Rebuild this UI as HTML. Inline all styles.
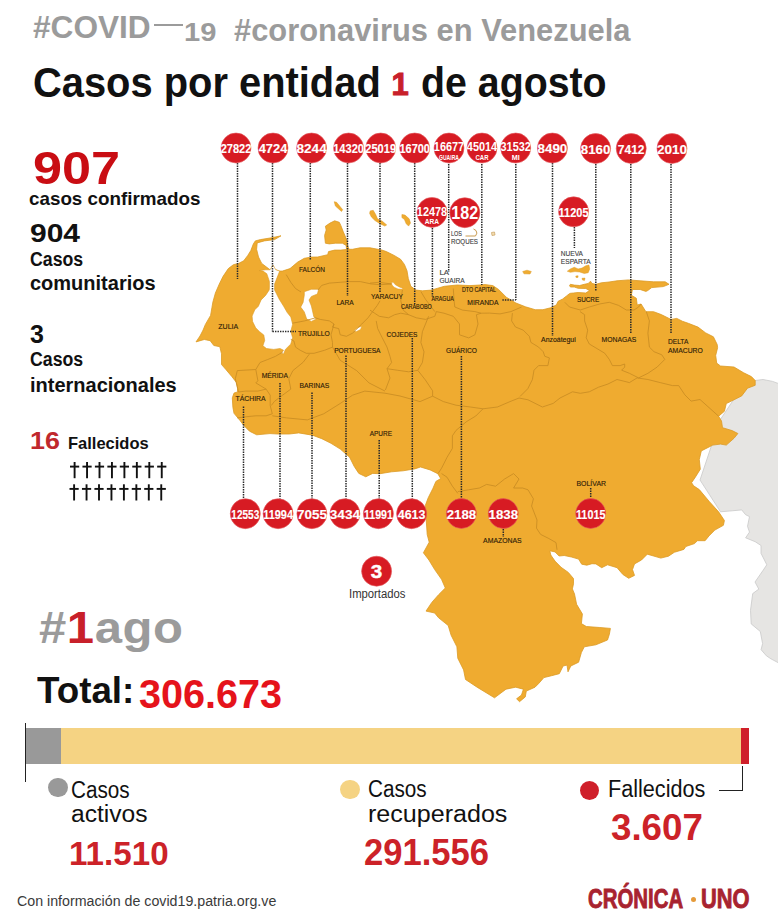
<!DOCTYPE html>
<html><head><meta charset="utf-8"><style>
html,body{margin:0;padding:0;background:#fff;width:778px;height:924px;overflow:hidden}
body{position:relative;font-family:"Liberation Sans", sans-serif}
div{position:absolute;white-space:nowrap}
.lb{color:#2b2416;font-weight:400;letter-spacing:-0.2px}
.pn{width:40px;text-align:center;color:#fff;font-weight:700;letter-spacing:-0.6px}
</style></head><body>
<svg width="778" height="924" viewBox="0 0 778 924" style="position:absolute;left:0;top:0"><path d="M755.2,380.5 L763.0,379.5 L772.6,381.4 L778.0,383.4 L790.0,384.0 L790.0,665.0 L778.0,662.6 L770.9,658.8 L766.4,655.8 L761.1,649.7 L762.6,643.6 L760.3,631.5 L751.2,623.9 L750.5,610.3 L752.7,593.6 L758.8,589.1 L755.0,582.0 L762.9,570.6 L766.8,564.8 L764.9,561.0 L761.0,553.3 L761.0,545.5 L755.2,541.7 L745.6,537.8 L749.5,532.1 L747.5,526.3 L749.5,516.6 L745.6,514.7 L741.7,509.9 L732.1,510.8 L720.5,511.8 L700.0,480.0 L720.0,420.0 L740.0,390.0 Z" fill="#e6e5e3" stroke="#c9c9c9" stroke-width="0.8"/><path d="M281.0,235.8 L274.6,239.6 L264.3,240.9 L257.2,242.9 L256.6,249.3 L258.5,257.0 L261.7,263.4 L266.8,267.3 L270.0,269.8 L275.8,269.8 L279.7,271.1 L282.3,271.1 L290.0,268.6 L297.7,262.1 L304.3,258.3 L311.4,257.1 L317.7,257.0 L327.7,254.7 L328.5,251.6 L334.7,250.1 L340.8,250.1 L346.5,249.5 L346.2,245.5 L342.4,243.2 L335.4,243.2 L329.3,243.9 L325.4,243.2 L324.6,235.4 L326.2,230.0 L325.4,226.2 L330.0,223.1 L334.7,220.8 L339.3,222.3 L340.8,225.4 L343.2,231.6 L345.5,237.0 L347.0,240.8 L347.8,246.2 L349.0,249.3 L352.4,249.3 L360.1,247.8 L370.1,247.8 L381.7,250.0 L386.4,251.6 L394.1,255.4 L400.6,259.3 L404.4,264.4 L407.0,270.8 L408.3,278.5 L410.8,286.3 L416.0,290.1 L422.4,290.8 L431.4,290.1 L437.8,288.2 L444.3,286.3 L457.1,285.0 L470.0,285.6 L480.0,285.0 L485.0,284.6 L492.8,285.6 L498.6,289.5 L506.3,297.2 L515.9,303.0 L525.5,306.8 L535.2,309.7 L542.9,309.7 L550.6,307.8 L556.4,304.9 L558.1,301.3 L562.7,299.0 L566.6,295.9 L569.6,293.6 L570.4,293.3 L573.5,293.0 L578.1,292.5 L585.8,293.0 L589.5,290.5 L585.8,288.5 L578.1,288.3 L574.3,287.0 L570.4,287.0 L569.5,285.5 L570.4,284.3 L574.3,285.1 L579.7,285.5 L584.3,284.3 L588.2,283.5 L590.5,281.2 L592.0,283.5 L595.9,284.3 L601.3,282.8 L609.0,282.0 L617.0,280.8 L628.6,279.9 L640.1,280.8 L653.6,281.8 L665.2,281.8 L669.0,284.3 L663.3,286.6 L651.7,287.6 L647.8,290.5 L645.9,291.4 L640.1,289.5 L632.4,289.5 L631.4,295.3 L636.3,298.2 L637.2,305.0 L641.1,304.0 L645.9,311.7 L653.6,311.7 L661.3,314.6 L671.0,319.4 L676.8,318.4 L682.5,321.3 L688.3,323.3 L698.0,327.1 L705.7,332.9 L713.4,336.8 L717.2,344.5 L717.6,347.7 L715.7,355.4 L716.7,363.1 L720.5,366.0 L734.0,367.0 L743.7,372.8 L751.4,376.6 L755.2,380.5 L755.2,385.3 L747.5,388.2 L741.7,395.9 L734.0,399.8 L726.3,403.6 L724.4,411.3 L718.6,416.2 L721.5,421.0 L722.5,427.7 L732.1,430.6 L737.9,433.5 L734.0,438.3 L726.3,445.1 L720.5,444.1 L712.8,445.1 L709.0,447.0 L701.3,450.9 L699.3,459.5 L700.3,469.2 L695.5,476.9 L691.6,482.7 L693.6,485.8 L699.3,489.6 L709.0,501.2 L718.6,511.8 L724.4,520.5 L723.4,525.3 L714.8,530.1 L709.0,535.9 L705.1,540.7 L697.4,540.7 L694.5,543.6 L685.8,546.5 L683.9,549.4 L674.3,552.3 L668.5,556.2 L660.8,558.1 L647.3,554.2 L641.5,560.0 L634.5,563.9 L632.5,569.6 L634.5,575.4 L628.7,578.3 L622.9,574.5 L617.1,567.7 L607.5,564.8 L601.7,567.7 L595.9,563.9 L592.0,563.7 L586.8,565.2 L581.7,564.2 L578.6,559.1 L571.4,557.0 L564.2,555.5 L559.1,556.0 L555.0,551.9 L549.8,550.8 L550.8,555.0 L555.0,561.1 L561.1,567.3 L568.3,572.4 L573.5,578.6 L573.5,583.8 L572.4,588.9 L574.5,594.0 L576.6,604.3 L582.4,614.0 L581.4,623.6 L586.3,626.5 L599.8,627.5 L610.4,628.4 L609.4,634.2 L607.5,640.0 L595.9,644.8 L584.3,646.8 L581.4,652.5 L578.6,662.2 L570.8,666.0 L568.0,671.8 L567.0,665.1 L563.1,666.0 L559.3,673.7 L551.6,675.7 L543.9,677.6 L538.8,683.4 L535.0,687.2 L526.3,691.1 L525.3,696.9 L519.5,701.7 L516.6,698.8 L521.5,695.0 L523.4,689.2 L515.7,687.2 L506.0,689.2 L494.5,697.8 L477.1,687.2 L465.5,679.5 L463.6,669.9 L457.8,658.3 L456.9,646.8 L451.1,635.2 L448.2,625.5 L438.6,617.8 L434.7,613.0 L426.0,611.1 L431.8,602.4 L438.6,594.7 L445.3,588.0 L441.5,579.3 L434.7,569.6 L428.9,560.0 L423.4,552.8 L429.2,542.2 L427.2,534.5 L426.3,521.0 L425.3,505.5 L428.2,497.8 L433.0,488.2 L435.9,481.4 L440.7,478.6 L437.8,473.7 L430.1,469.9 L420.5,467.0 L414.7,468.9 L403.1,470.8 L391.6,471.8 L380.0,473.7 L372.7,473.4 L365.8,476.8 L358.8,473.4 L354.2,466.4 L349.6,457.2 L340.3,449.1 L331.0,443.3 L321.8,438.7 L312.5,435.2 L298.7,432.9 L289.4,434.0 L277.8,434.0 L270.0,433.6 L256.7,434.8 L249.5,431.2 L243.6,425.2 L240.0,420.5 L234.0,413.3 L232.9,407.4 L232.3,397.9 L234.0,393.1 L237.6,391.9 L237.6,388.3 L236.4,382.4 L231.7,376.4 L225.7,369.3 L221.5,364.5 L221.5,353.8 L219.8,346.7 L213.8,345.5 L210.2,340.7 L204.3,339.5 L196.0,341.9 L200.0,336.0 L203.1,330.0 L205.4,324.4 L210.6,315.4 L211.9,307.7 L212.9,302.0 L215.4,293.0 L219.3,284.0 L223.1,276.3 L228.3,268.6 L233.4,264.7 L238.6,263.4 L243.7,260.8 L247.6,255.7 L250.8,250.6 L253.3,244.1 L255.3,240.9 L260.4,239.6 L272.0,237.7 Z" fill="#efab30" stroke="#dc9a25" stroke-width="0.8" stroke-linejoin="round"/><path d="M334.2,201.7 L336.6,202.3 L342.7,209.7 L341.5,211.5 L335.4,206.0 Z" fill="#efab30" stroke="#dc9a25" stroke-width="0.5"/><path d="M370.2,210.9 L373.2,210.3 L375.7,214.5 L377.5,218.8 L382.4,221.3 L386.7,224.9 L384.8,226.1 L380.0,223.7 L375.0,220.6 L371.4,217.0 L369.6,213.3 Z" fill="#efab30" stroke="#dc9a25" stroke-width="0.5"/><path d="M401.9,214.5 L405.0,215.1 L409.2,218.8 L410.5,223.1 L408.6,226.1 L406.2,223.7 L404.4,219.4 L401.9,217.6 Z" fill="#efab30" stroke="#dc9a25" stroke-width="0.5"/><path d="M567.3,271.2 L570.4,268.9 L574.3,267.3 L578.1,268.9 L582.0,268.1 L585.8,265.8 L588.9,265.0 L589.7,268.9 L588.2,272.7 L584.3,273.5 L579.7,272.0 L575.0,271.6 L570.4,272.3 Z" fill="#efab30" stroke="#dc9a25" stroke-width="0.5"/><path d="M575.8,276.0 L578.1,275.8 L578.0,277.4 L576.0,277.4 Z" fill="#efab30" stroke="#dc9a25" stroke-width="0.5"/><path d="M582.0,278.3 L585.0,278.1 L584.5,280.4 L582.5,280.0 Z" fill="#efab30" stroke="#dc9a25" stroke-width="0.5"/><path d="M522.7,271.5 L527.0,270.2 L531.3,271.5 L530.0,274.0 L524.0,273.8 Z" fill="#efab30" stroke="#dc9a25" stroke-width="0.5"/><path d="M270.0,269.8 L265.6,269.8 L259.1,270.5 L263.0,271.1 L266.8,273.7 L269.4,281.4 L269.4,287.8 L269.2,290.0 L265.6,295.4 L261.1,299.9 L258.4,306.2 L254.8,309.8 L252.1,316.1 L252.6,321.5 L255.7,327.8 L259.3,331.4 L263.8,335.0 L264.7,340.4 L262.9,345.8 L266.5,348.5 L273.7,349.4 L280.0,348.5 L283.6,350.3 L280.9,353.0 L283.6,353.9 L285.4,349.4 L290.8,344.0 L292.6,337.7 L290.8,331.4 L292.6,324.2 L290.8,317.0 L287.2,312.5 L283.6,306.2 L279.1,299.0 L276.4,293.6 L274.6,290.0 L274.6,284.0 L277.1,277.6 L279.7,271.1 L275.8,269.8 L273.0,265.0 Z" fill="#fff" stroke="#dc9a25" stroke-width="0.6"/><path d="M304.3,291.7 L311.4,289.3 L318.6,289.3 L317.4,294.0 L311.4,296.4 L309.0,300.0 L311.4,306.0 L313.8,316.7 L316.2,319.0 L311.4,321.4 L306.7,319.0 L304.3,311.9 L300.7,307.1 L303.1,302.4 L304.3,295.2 Z" fill="#fff" stroke="#dc9a25" stroke-width="0.6"/><path d="M391.5,282.0 L393.5,282.6 L395.4,284.8 L399.3,286.9 L402.8,288.3 L402.0,289.3 L398.0,289.0 L394.1,287.2 L392.0,285.0 Z" fill="#fff" stroke="#dc9a25" stroke-width="0.5"/><path d="M354.0,330.5 L358.0,327.5 L361.8,326.3 L360.5,329.5 L356.0,331.7 Z" fill="#fff" stroke="#dc9a25" stroke-width="0.5"/><polyline points="286.2,274.6 290.8,282.3 295.5,288.5 301.0,292.0" fill="none" stroke="#c78a22" stroke-width="0.8" stroke-linejoin="round"/><polyline points="318.0,290.0 321.7,285.4 329.4,283.1 340.2,282.3 349.5,281.6 360.3,281.6 371.0,283.9 380.0,284.7 391.0,284.0" fill="none" stroke="#c78a22" stroke-width="0.8" stroke-linejoin="round"/><polyline points="292.4,323.2 304.7,320.9 315.5,317.8" fill="none" stroke="#c78a22" stroke-width="0.8" stroke-linejoin="round"/><polyline points="315.5,317.8 320.2,319.4 329.4,320.9 334.0,324.0 332.5,327.1 338.7,328.6 340.2,334.8 346.4,336.3 352.5,333.2 361.8,324.0 368.0,317.8 372.6,311.6 377.2,305.5 380.0,300.8" fill="none" stroke="#c78a22" stroke-width="0.8" stroke-linejoin="round"/><polyline points="334.0,324.0 331.0,334.8 332.5,342.5 332.5,347.1 324.8,350.2 314.0,353.3 306.3,353.3 300.1,350.2 295.5,347.1 293.9,341.0 290.8,339.4" fill="none" stroke="#c78a22" stroke-width="0.8" stroke-linejoin="round"/><polyline points="283.1,351.8 275.4,356.4 267.7,359.5 260.0,362.5 255.8,369.5 237.3,370.6" fill="none" stroke="#c78a22" stroke-width="0.8" stroke-linejoin="round"/><polyline points="309.4,354.1 303.1,362.3 292.9,370.6 288.8,378.8 290.8,389.1 282.6,395.2 274.4,401.4 271.3,405.5" fill="none" stroke="#c78a22" stroke-width="0.8" stroke-linejoin="round"/><polyline points="332.5,347.1 340.2,360.3 356.6,370.6 369.0,382.9 385.0,391.1" fill="none" stroke="#c78a22" stroke-width="0.8" stroke-linejoin="round"/><polyline points="237.3,370.6 235.3,378.8 237.3,387.0 238.5,392.0 245.6,391.1 257.9,391.1 266.1,389.1 270.2,395.2 270.2,405.5 272.3,413.8 266.1,415.8 255.8,415.8 245.6,416.8 237.3,417.9" fill="none" stroke="#c78a22" stroke-width="0.8" stroke-linejoin="round"/><polyline points="255.8,369.5 257.9,380.8 255.8,382.9 266.1,389.1" fill="none" stroke="#c78a22" stroke-width="0.8" stroke-linejoin="round"/><polyline points="272.3,415.8 286.7,417.9 307.3,419.9 323.7,413.8 340.2,403.5 352.5,395.2 364.8,391.1 385.0,393.2 400.0,396.0 420.0,401.6 432.6,396.2 443.4,401.6 456.0,405.2 470.4,407.0 483.0,408.8 497.4,407.0 510.0,401.6 519.0,398.0 528.0,399.8 542.4,407.0 553.2,403.4 560.0,398.0 572.5,391.8 580.3,393.3 589.3,391.8 598.5,387.2 607.8,384.1 617.0,379.5 623.2,381.0 629.4,382.6 637.1,377.9 647.9,379.5 660.2,382.6 672.5,385.6 678.7,385.6 684.9,394.9 691.1,401.1 700.0,399.5 718.6,416.2" fill="none" stroke="#c78a22" stroke-width="0.8" stroke-linejoin="round"/><polyline points="370.0,283.1 379.3,282.3 391.6,284.0" fill="none" stroke="#c78a22" stroke-width="0.8" stroke-linejoin="round"/><polyline points="402.4,290.0 400.8,300.8 403.2,310.1 408.6,314.7 416.3,317.8 425.5,319.4 434.8,316.3 436.3,311.6 444.0,313.2 453.3,316.3 459.5,324.0 459.5,334.8 468.7,337.9 474.9,334.8 478.0,324.0 476.4,314.7 481.1,313.2 489.3,313.1 500.0,313.9 510.9,311.6 521.6,307.0" fill="none" stroke="#c78a22" stroke-width="0.8" stroke-linejoin="round"/><polyline points="370.0,310.1 374.6,313.2 379.3,316.3 388.5,317.8 394.7,314.7 400.8,313.2 408.6,314.7" fill="none" stroke="#c78a22" stroke-width="0.8" stroke-linejoin="round"/><polyline points="420.9,291.6 425.5,299.3 430.2,305.5 434.8,311.6" fill="none" stroke="#c78a22" stroke-width="0.8" stroke-linejoin="round"/><polyline points="453.3,288.5 454.1,300.8 454.8,307.0 462.5,310.1 474.9,311.6 481.1,313.2" fill="none" stroke="#c78a22" stroke-width="0.8" stroke-linejoin="round"/><polyline points="376.2,320.9 377.7,328.6 382.3,337.9 387.0,347.1 390.0,356.4 391.6,362.5 387.0,368.7 390.0,378.0 385.4,390.0" fill="none" stroke="#c78a22" stroke-width="0.8" stroke-linejoin="round"/><polyline points="428.6,316.3 425.5,324.0 422.4,331.7 420.9,342.5 424.0,351.8 422.4,362.5 417.8,370.3 408.6,371.8 397.8,370.3 387.0,368.7" fill="none" stroke="#c78a22" stroke-width="0.8" stroke-linejoin="round"/><polyline points="417.8,370.3 425.4,380.0 432.6,390.8 432.6,396.2" fill="none" stroke="#c78a22" stroke-width="0.8" stroke-linejoin="round"/><polyline points="512.4,313.1 511.6,320.9 515.5,327.0 523.2,330.1 529.4,336.3 530.9,342.4 538.6,347.1 543.2,351.7 544.8,356.3 549.4,357.9 547.9,365.6 538.6,365.6 534.0,370.2 532.4,379.5 527.8,388.7 520.1,396.4" fill="none" stroke="#c78a22" stroke-width="0.8" stroke-linejoin="round"/><polyline points="564.8,302.3 569.5,307.0 580.3,310.0 589.3,307.0 600.0,303.9 609.3,302.3 618.6,305.4 626.3,310.0 634.0,310.0 638.6,307.0 641.0,304.0" fill="none" stroke="#c78a22" stroke-width="0.8" stroke-linejoin="round"/><polyline points="580.0,311.6 584.6,314.7 584.6,320.9 587.7,330.1 586.2,337.8 589.3,344.0 597.0,348.6 604.7,353.2 609.3,359.4 612.4,365.6 620.1,365.6 624.7,364.0 624.7,367.1 621.6,370.2 629.4,373.3 638.6,377.9" fill="none" stroke="#c78a22" stroke-width="0.8" stroke-linejoin="round"/><polyline points="646.3,311.6 649.4,320.9 647.9,333.2 649.4,347.1 654.0,351.7 661.8,354.8 664.8,359.4 657.1,367.1 647.9,373.3 638.6,377.9" fill="none" stroke="#c78a22" stroke-width="0.8" stroke-linejoin="round"/><polyline points="483.0,408.8 475.8,416.0 466.8,421.4 456.0,430.4 452.4,435.8 452.4,448.4 447.0,457.4 441.6,468.2 438.0,473.6" fill="none" stroke="#c78a22" stroke-width="0.8" stroke-linejoin="round"/><polyline points="441.6,473.6 447.0,477.2 452.4,486.2 457.8,493.4" fill="none" stroke="#c78a22" stroke-width="0.8" stroke-linejoin="round"/><polyline points="457.8,491.6 468.6,489.8 479.4,488.0 486.6,484.4 495.6,486.2 504.6,479.0 513.6,473.6 519.0,479.0 513.6,488.0 522.6,488.0 528.0,489.8 533.4,498.8 531.6,506.0 537.0,520.0 536.5,528.2 540.6,534.4 548.8,538.5 556.0,542.6 557.0,549.8" fill="none" stroke="#c78a22" stroke-width="0.8" stroke-linejoin="round"/><path d="M465.5,236 L475.5,236 Q478,233 476,230.5 L473.5,229" fill="none" stroke="#c89a50" stroke-width="1"/><path d="M491.5,232.5 L494.5,232 L495,235 L492,235.5 Z" fill="#f3dcb0" stroke="#c9a060" stroke-width="0.7"/><line x1="237.5" y1="163" x2="237.5" y2="279" stroke="#2a2a2a" stroke-width="1.5" stroke-dasharray="1.4 1.1"/><line x1="272.5" y1="163" x2="272.5" y2="331.5" stroke="#2a2a2a" stroke-width="1.5" stroke-dasharray="1.4 1.1"/><line x1="310.3" y1="163" x2="310.3" y2="260" stroke="#2a2a2a" stroke-width="1.5" stroke-dasharray="1.4 1.1"/><line x1="347.5" y1="163" x2="347.5" y2="296" stroke="#2a2a2a" stroke-width="1.5" stroke-dasharray="1.4 1.1"/><line x1="380" y1="163" x2="380" y2="292.4" stroke="#2a2a2a" stroke-width="1.5" stroke-dasharray="1.4 1.1"/><line x1="414.7" y1="163" x2="414.7" y2="304" stroke="#2a2a2a" stroke-width="1.5" stroke-dasharray="1.4 1.1"/><line x1="448.7" y1="164" x2="448.7" y2="272" stroke="#2a2a2a" stroke-width="1.5" stroke-dasharray="1.4 1.1"/><line x1="481.8" y1="164" x2="481.8" y2="285" stroke="#2a2a2a" stroke-width="1.5" stroke-dasharray="1.4 1.1"/><line x1="515.8" y1="164" x2="515.8" y2="300" stroke="#2a2a2a" stroke-width="1.5" stroke-dasharray="1.4 1.1"/><line x1="552.5" y1="163" x2="552.5" y2="336" stroke="#2a2a2a" stroke-width="1.5" stroke-dasharray="1.4 1.1"/><line x1="595.8" y1="164" x2="595.8" y2="291.3" stroke="#2a2a2a" stroke-width="1.5" stroke-dasharray="1.4 1.1"/><line x1="630.8" y1="164" x2="630.8" y2="334" stroke="#2a2a2a" stroke-width="1.5" stroke-dasharray="1.4 1.1"/><line x1="671" y1="164" x2="671" y2="334" stroke="#2a2a2a" stroke-width="1.5" stroke-dasharray="1.4 1.1"/><line x1="432.4" y1="228" x2="432.4" y2="296.5" stroke="#2a2a2a" stroke-width="1.5" stroke-dasharray="1.4 1.1"/><line x1="574.4" y1="227" x2="574.4" y2="248" stroke="#2a2a2a" stroke-width="1.5" stroke-dasharray="1.4 1.1"/><line x1="243.5" y1="406.5" x2="243.5" y2="498.5" stroke="#2a2a2a" stroke-width="1.5" stroke-dasharray="1.4 1.1"/><line x1="280" y1="383" x2="280" y2="498.5" stroke="#2a2a2a" stroke-width="1.5" stroke-dasharray="1.4 1.1"/><line x1="312" y1="392.5" x2="312" y2="498.5" stroke="#2a2a2a" stroke-width="1.5" stroke-dasharray="1.4 1.1"/><line x1="346" y1="355.5" x2="346" y2="498.5" stroke="#2a2a2a" stroke-width="1.5" stroke-dasharray="1.4 1.1"/><line x1="379.2" y1="440" x2="379.2" y2="498.5" stroke="#2a2a2a" stroke-width="1.5" stroke-dasharray="1.4 1.1"/><line x1="412.3" y1="338" x2="412.3" y2="498.5" stroke="#2a2a2a" stroke-width="1.5" stroke-dasharray="1.4 1.1"/><line x1="461.4" y1="356" x2="461.4" y2="498" stroke="#2a2a2a" stroke-width="1.5" stroke-dasharray="1.4 1.1"/><line x1="503.3" y1="529" x2="503.3" y2="537" stroke="#2a2a2a" stroke-width="1.5" stroke-dasharray="1.4 1.1"/><line x1="590.7" y1="488" x2="590.7" y2="498" stroke="#2a2a2a" stroke-width="1.5" stroke-dasharray="1.4 1.1"/><line x1="272.5" y1="331.5" x2="296" y2="331.5" stroke="#2a2a2a" stroke-width="1.5" stroke-dasharray="1.4 1.1"/><line x1="502.4" y1="300.1" x2="515.8" y2="300.1" stroke="#2a2a2a" stroke-width="1.5" stroke-dasharray="1.4 1.1"/><circle cx="236" cy="148" r="15" fill="#d71b23" stroke="#e45a5e" stroke-width="0.6"/><circle cx="273" cy="148" r="15" fill="#d71b23" stroke="#e45a5e" stroke-width="0.6"/><circle cx="311.6" cy="148" r="15" fill="#d71b23" stroke="#e45a5e" stroke-width="0.6"/><circle cx="348.6" cy="148" r="15" fill="#d71b23" stroke="#e45a5e" stroke-width="0.6"/><circle cx="380.7" cy="148" r="15" fill="#d71b23" stroke="#e45a5e" stroke-width="0.6"/><circle cx="414.7" cy="148" r="15" fill="#d71b23" stroke="#e45a5e" stroke-width="0.6"/><circle cx="449" cy="148" r="15" fill="#d71b23" stroke="#e45a5e" stroke-width="0.6"/><circle cx="482" cy="148" r="15" fill="#d71b23" stroke="#e45a5e" stroke-width="0.6"/><circle cx="515.7" cy="148" r="15" fill="#d71b23" stroke="#e45a5e" stroke-width="0.6"/><circle cx="552.4" cy="148" r="15" fill="#d71b23" stroke="#e45a5e" stroke-width="0.6"/><circle cx="595.6" cy="148.5" r="15" fill="#d71b23" stroke="#e45a5e" stroke-width="0.6"/><circle cx="631.2" cy="148.5" r="15" fill="#d71b23" stroke="#e45a5e" stroke-width="0.6"/><circle cx="672" cy="148.5" r="15" fill="#d71b23" stroke="#e45a5e" stroke-width="0.6"/><circle cx="432" cy="212.4" r="15" fill="#d71b23" stroke="#e45a5e" stroke-width="0.6"/><circle cx="464.8" cy="212.7" r="15" fill="#d71b23" stroke="#e45a5e" stroke-width="0.6"/><circle cx="573.6" cy="211.8" r="15" fill="#d71b23" stroke="#e45a5e" stroke-width="0.6"/><circle cx="245.3" cy="513.7" r="15" fill="#d71b23" stroke="#e45a5e" stroke-width="0.6"/><circle cx="278.1" cy="513.7" r="15" fill="#d71b23" stroke="#e45a5e" stroke-width="0.6"/><circle cx="311.9" cy="513.7" r="15" fill="#d71b23" stroke="#e45a5e" stroke-width="0.6"/><circle cx="344.9" cy="513.7" r="15" fill="#d71b23" stroke="#e45a5e" stroke-width="0.6"/><circle cx="378.4" cy="513.7" r="15" fill="#d71b23" stroke="#e45a5e" stroke-width="0.6"/><circle cx="411.6" cy="513.7" r="15" fill="#d71b23" stroke="#e45a5e" stroke-width="0.6"/><circle cx="461.4" cy="513.5" r="15" fill="#d71b23" stroke="#e45a5e" stroke-width="0.6"/><circle cx="503.3" cy="513.5" r="15" fill="#d71b23" stroke="#e45a5e" stroke-width="0.6"/><circle cx="590.7" cy="513.5" r="15" fill="#d71b23" stroke="#e45a5e" stroke-width="0.6"/><circle cx="376.6" cy="571.2" r="15" fill="#d71b23" stroke="#e45a5e" stroke-width="0.6"/><g font-family="Liberation Sans, sans-serif"><text x="218.3" y="328.7" font-size="8" textLength="19.9" lengthAdjust="spacingAndGlyphs" fill="#2e2008" stroke="#2e2008" stroke-width="0.15" font-weight="400">ZULIA</text><text x="299" y="272.2" font-size="8" textLength="26" lengthAdjust="spacingAndGlyphs" fill="#2e2008" stroke="#2e2008" stroke-width="0.15" font-weight="400">FALCÓN</text><text x="298" y="335.7" font-size="8" textLength="31.8" lengthAdjust="spacingAndGlyphs" fill="#2e2008" stroke="#2e2008" stroke-width="0.15" font-weight="400">TRUJILLO</text><text x="336.4" y="304.8" font-size="8" textLength="17.3" lengthAdjust="spacingAndGlyphs" fill="#2e2008" stroke="#2e2008" stroke-width="0.15" font-weight="400">LARA</text><text x="371.1" y="299.0" font-size="8" textLength="31.8" lengthAdjust="spacingAndGlyphs" fill="#2e2008" stroke="#2e2008" stroke-width="0.15" font-weight="400">YARACUY</text><text x="401" y="308.7" font-size="6.5" textLength="30.8" lengthAdjust="spacingAndGlyphs" fill="#2e2008" stroke="#2e2008" stroke-width="0.15" font-weight="400">CARABOBO</text><text x="386.5" y="336.7" font-size="8" textLength="30.9" lengthAdjust="spacingAndGlyphs" fill="#2e2008" stroke="#2e2008" stroke-width="0.15" font-weight="400">COJEDES</text><text x="431.6" y="300.5" font-size="6.5" textLength="22.1" lengthAdjust="spacingAndGlyphs" fill="#2e2008" stroke="#2e2008" stroke-width="0.15" font-weight="400">ARAGUA</text><text x="439.4" y="274.9" font-size="8" textLength="9.6" lengthAdjust="spacingAndGlyphs" fill="#444444" stroke="#444444" stroke-width="0.15" font-weight="400">LA</text><text x="439.4" y="283.2" font-size="8" textLength="25.3" lengthAdjust="spacingAndGlyphs" fill="#444444" stroke="#444444" stroke-width="0.15" font-weight="400">GUAIRA</text><text x="451" y="235.7" font-size="8" textLength="11" lengthAdjust="spacingAndGlyphs" fill="#444444" stroke="#444444" stroke-width="0.15" font-weight="400">LOS</text><text x="451" y="243.7" font-size="8" textLength="27" lengthAdjust="spacingAndGlyphs" fill="#444444" stroke="#444444" stroke-width="0.15" font-weight="400">ROQUES</text><text x="462" y="291.5" font-size="6.5" textLength="34" lengthAdjust="spacingAndGlyphs" fill="#2e2008" stroke="#2e2008" stroke-width="0.15" font-weight="400">DTO CAPITAL</text><text x="467.3" y="304.7" font-size="8" textLength="31.2" lengthAdjust="spacingAndGlyphs" fill="#2e2008" stroke="#2e2008" stroke-width="0.15" font-weight="400">MIRANDA</text><text x="560.8" y="256.1" font-size="8" textLength="22.2" lengthAdjust="spacingAndGlyphs" fill="#444444" stroke="#444444" stroke-width="0.15" font-weight="400">NUEVA</text><text x="560.8" y="264.2" font-size="8" textLength="29.8" lengthAdjust="spacingAndGlyphs" fill="#444444" stroke="#444444" stroke-width="0.15" font-weight="400">ESPARTA</text><text x="577" y="301.5" font-size="8" textLength="22.1" lengthAdjust="spacingAndGlyphs" fill="#2e2008" stroke="#2e2008" stroke-width="0.15" font-weight="400">SUCRE</text><text x="541" y="342.4" font-size="8" textLength="34.7" lengthAdjust="spacingAndGlyphs" fill="#2e2008" stroke="#2e2008" stroke-width="0.15" font-weight="400">Anzoátegui</text><text x="601.6" y="341.5" font-size="8" textLength="34.7" lengthAdjust="spacingAndGlyphs" fill="#2e2008" stroke="#2e2008" stroke-width="0.15" font-weight="400">MONAGAS</text><text x="668" y="344.4" font-size="8" textLength="20.3" lengthAdjust="spacingAndGlyphs" fill="#2e2008" stroke="#2e2008" stroke-width="0.15" font-weight="400">DELTA</text><text x="668" y="353.1" font-size="8" textLength="34.8" lengthAdjust="spacingAndGlyphs" fill="#2e2008" stroke="#2e2008" stroke-width="0.15" font-weight="400">AMACURO</text><text x="334.2" y="353.2" font-size="8" textLength="46.3" lengthAdjust="spacingAndGlyphs" fill="#2e2008" stroke="#2e2008" stroke-width="0.15" font-weight="400">PORTUGUESA</text><text x="261.7" y="378.3" font-size="8" textLength="26.3" lengthAdjust="spacingAndGlyphs" fill="#2e2008" stroke="#2e2008" stroke-width="0.15" font-weight="400">MÉRIDA</text><text x="299.5" y="387.9" font-size="8" textLength="29.7" lengthAdjust="spacingAndGlyphs" fill="#2e2008" stroke="#2e2008" stroke-width="0.15" font-weight="400">BARINAS</text><text x="235.5" y="401.4" font-size="8" textLength="30.1" lengthAdjust="spacingAndGlyphs" fill="#2e2008" stroke="#2e2008" stroke-width="0.15" font-weight="400">TÁCHIRA</text><text x="369.7" y="436.1" font-size="8" textLength="22.3" lengthAdjust="spacingAndGlyphs" fill="#2e2008" stroke="#2e2008" stroke-width="0.15" font-weight="400">APURE</text><text x="446" y="353.2" font-size="8" textLength="30.9" lengthAdjust="spacingAndGlyphs" fill="#2e2008" stroke="#2e2008" stroke-width="0.15" font-weight="400">GUÁRICO</text><text x="576.5" y="486.3" font-size="8" textLength="29.5" lengthAdjust="spacingAndGlyphs" fill="#2e2008" stroke="#2e2008" stroke-width="0.15" font-weight="400">BOLÍVAR</text><text x="483.1" y="543.1" font-size="8" textLength="38.6" lengthAdjust="spacingAndGlyphs" fill="#2e2008" stroke="#2e2008" stroke-width="0.15" font-weight="400">AMAZONAS</text><text x="220.65" y="153.40" font-size="13" textLength="30.7" lengthAdjust="spacingAndGlyphs" fill="#fff" stroke="#fff" stroke-width="0.15" font-weight="700">27822</text><text x="258.70" y="153.40" font-size="13" textLength="28.6" lengthAdjust="spacingAndGlyphs" fill="#fff" stroke="#fff" stroke-width="0.15" font-weight="700">4724</text><text x="296.50" y="153.40" font-size="13" textLength="30.2" lengthAdjust="spacingAndGlyphs" fill="#fff" stroke="#fff" stroke-width="0.15" font-weight="700">8244</text><text x="333.20" y="153.40" font-size="13" textLength="30.8" lengthAdjust="spacingAndGlyphs" fill="#fff" stroke="#fff" stroke-width="0.15" font-weight="700">14320</text><text x="365.30" y="153.40" font-size="13" textLength="30.8" lengthAdjust="spacingAndGlyphs" fill="#fff" stroke="#fff" stroke-width="0.15" font-weight="700">25019</text><text x="399.45" y="153.40" font-size="13" textLength="30.5" lengthAdjust="spacingAndGlyphs" fill="#fff" stroke="#fff" stroke-width="0.15" font-weight="700">16700</text><text x="433.8" y="151.3" font-size="12" textLength="30.4" lengthAdjust="spacingAndGlyphs" fill="#fff" font-weight="700">16677</text><text x="439.0" y="160" font-size="6.4" textLength="20" lengthAdjust="spacingAndGlyphs" fill="#fff" font-weight="700">GUAIRA</text><text x="466.8" y="151.3" font-size="12" textLength="30.4" lengthAdjust="spacingAndGlyphs" fill="#fff" font-weight="700">45014</text><text x="475.5" y="160" font-size="6.4" textLength="13" lengthAdjust="spacingAndGlyphs" fill="#fff" font-weight="700">CAR</text><text x="500.50000000000006" y="151.3" font-size="12" textLength="30.4" lengthAdjust="spacingAndGlyphs" fill="#fff" font-weight="700">31532</text><text x="511.70000000000005" y="160" font-size="6.4" textLength="8" lengthAdjust="spacingAndGlyphs" fill="#fff" font-weight="700">MI</text><text x="537.55" y="153.40" font-size="13" textLength="29.7" lengthAdjust="spacingAndGlyphs" fill="#fff" stroke="#fff" stroke-width="0.15" font-weight="700">8490</text><text x="580.80" y="153.90" font-size="13" textLength="29.6" lengthAdjust="spacingAndGlyphs" fill="#fff" stroke="#fff" stroke-width="0.15" font-weight="700">8160</text><text x="617.85" y="153.90" font-size="13" textLength="26.7" lengthAdjust="spacingAndGlyphs" fill="#fff" stroke="#fff" stroke-width="0.15" font-weight="700">7412</text><text x="656.95" y="153.90" font-size="13" textLength="30.1" lengthAdjust="spacingAndGlyphs" fill="#fff" stroke="#fff" stroke-width="0.15" font-weight="700">2010</text><text x="416.8" y="215.70000000000002" font-size="12" textLength="30.4" lengthAdjust="spacingAndGlyphs" fill="#fff" font-weight="700">12478</text><text x="424.85" y="224.4" font-size="6.4" textLength="14.3" lengthAdjust="spacingAndGlyphs" fill="#fff" font-weight="700">ARA</text><text x="451.3" y="218.89999999999998" font-size="17.5" textLength="27" lengthAdjust="spacingAndGlyphs" fill="#fff" font-weight="700">182</text><text x="558.60" y="217.20" font-size="13" textLength="30" lengthAdjust="spacingAndGlyphs" fill="#fff" stroke="#fff" stroke-width="0.15" font-weight="700">11205</text><text x="231.30" y="519.10" font-size="13" textLength="28" lengthAdjust="spacingAndGlyphs" fill="#fff" stroke="#fff" stroke-width="0.15" font-weight="700">12553</text><text x="263.25" y="519.10" font-size="13" textLength="29.7" lengthAdjust="spacingAndGlyphs" fill="#fff" stroke="#fff" stroke-width="0.15" font-weight="700">11994</text><text x="296.90" y="519.10" font-size="13" textLength="30" lengthAdjust="spacingAndGlyphs" fill="#fff" stroke="#fff" stroke-width="0.15" font-weight="700">7055</text><text x="329.75" y="519.10" font-size="13" textLength="30.3" lengthAdjust="spacingAndGlyphs" fill="#fff" stroke="#fff" stroke-width="0.15" font-weight="700">3434</text><text x="364.00" y="519.10" font-size="13" textLength="28.8" lengthAdjust="spacingAndGlyphs" fill="#fff" stroke="#fff" stroke-width="0.15" font-weight="700">11991</text><text x="397.75" y="519.10" font-size="13" textLength="27.7" lengthAdjust="spacingAndGlyphs" fill="#fff" stroke="#fff" stroke-width="0.15" font-weight="700">4613</text><text x="446.65" y="518.90" font-size="13" textLength="29.5" lengthAdjust="spacingAndGlyphs" fill="#fff" stroke="#fff" stroke-width="0.15" font-weight="700">2188</text><text x="488.55" y="518.90" font-size="13" textLength="29.5" lengthAdjust="spacingAndGlyphs" fill="#fff" stroke="#fff" stroke-width="0.15" font-weight="700">1838</text><text x="575.95" y="518.90" font-size="13" textLength="29.5" lengthAdjust="spacingAndGlyphs" fill="#fff" stroke="#fff" stroke-width="0.15" font-weight="700">11015</text><text x="370.8" y="578.3" font-size="19" textLength="11.5" lengthAdjust="spacingAndGlyphs" fill="#fff" stroke="#fff" stroke-width="0.4" font-weight="700">3</text></g></svg>

<div style="left:32.5px;top:13px;font-size:30.7px;line-height:30.7px;color:#9b9b9b;font-weight:700;transform:scaleX(1.03);transform-origin:0 0">#COVID</div>
<div style="left:154.3px;top:23.8px;width:28.3px;height:2px;background:#9b9b9b"></div>
<div style="left:183.5px;top:18.5px;font-size:26px;line-height:26px;color:#9b9b9b;font-weight:700;transform:scaleX(1.12);transform-origin:0 0">19</div>
<div style="left:234px;top:14.4px;font-size:32px;line-height:32px;color:#9b9b9b;font-weight:700;transform:scaleX(0.965);transform-origin:0 0">#coronavirus en Venezuela</div>
<div style="left:33px;top:60.9px;font-size:43px;line-height:43px;color:#111;font-weight:700;transform:scaleX(0.927);transform-origin:0 0">Casos por entidad</div>
<div style="left:391.5px;top:69px;font-size:31px;line-height:31px;color:#c8202a;font-weight:700;-webkit-text-stroke:1px #c8202a">1</div>
<div style="left:421px;top:60.9px;font-size:43px;line-height:43px;color:#111;font-weight:700;transform:scaleX(0.914);transform-origin:0 0">de agosto</div>

<div style="left:33px;top:145.1px;font-size:46px;line-height:46px;color:#c90d13;font-weight:700;transform:scaleX(1.135);transform-origin:0 0">907</div>
<div style="left:29px;top:189.4px;font-size:19px;line-height:19px;color:#111;font-weight:700;transform:scaleX(0.99);transform-origin:0 0">casos confirmados</div>
<div style="left:30px;top:220.8px;font-size:25px;line-height:25px;color:#111;font-weight:700;transform:scaleX(1.2);transform-origin:0 0">904</div>
<div style="left:30px;top:248.6px;font-size:20px;line-height:20px;color:#111;font-weight:700;transform:scaleX(0.886);transform-origin:0 0">Casos</div>
<div style="left:30px;top:273.1px;font-size:20px;line-height:20px;color:#111;font-weight:700;transform:scaleX(1.0);transform-origin:0 0">comunitarios</div>
<div style="left:30px;top:321.8px;font-size:25px;line-height:25px;color:#111;font-weight:700">3</div>
<div style="left:30px;top:349.1px;font-size:20px;line-height:20px;color:#111;font-weight:700;transform:scaleX(0.886);transform-origin:0 0">Casos</div>
<div style="left:30px;top:374.9px;font-size:20px;line-height:20px;color:#111;font-weight:700;transform:scaleX(1.0);transform-origin:0 0">internacionales</div>
<div style="left:30px;top:428.9px;font-size:24px;line-height:24px;color:#c0282d;font-weight:700;transform:scaleX(1.12);transform-origin:0 0">16</div>
<div style="left:68px;top:435.2px;font-size:16.5px;line-height:16.5px;color:#111;font-weight:700">Fallecidos</div>
<svg width="110" height="45" style="position:absolute;left:66px;top:460px" viewBox="66 460 110 45">
<g stroke="#111" stroke-width="1.9" fill="none">
<line x1="74.60" y1="462" x2="74.60" y2="478.2"/><line x1="70.00" y1="466.6" x2="79.20" y2="466.6"/><line x1="87.05" y1="462" x2="87.05" y2="478.2"/><line x1="82.45" y1="466.6" x2="91.65" y2="466.6"/><line x1="99.50" y1="462" x2="99.50" y2="478.2"/><line x1="94.90" y1="466.6" x2="104.10" y2="466.6"/><line x1="111.95" y1="462" x2="111.95" y2="478.2"/><line x1="107.35" y1="466.6" x2="116.55" y2="466.6"/><line x1="124.40" y1="462" x2="124.40" y2="478.2"/><line x1="119.80" y1="466.6" x2="129.00" y2="466.6"/><line x1="136.85" y1="462" x2="136.85" y2="478.2"/><line x1="132.25" y1="466.6" x2="141.45" y2="466.6"/><line x1="149.30" y1="462" x2="149.30" y2="478.2"/><line x1="144.70" y1="466.6" x2="153.90" y2="466.6"/><line x1="161.75" y1="462" x2="161.75" y2="478.2"/><line x1="157.15" y1="466.6" x2="166.35" y2="466.6"/><line x1="74.10" y1="484.3" x2="74.10" y2="500.5"/><line x1="69.50" y1="488.90000000000003" x2="78.70" y2="488.90000000000003"/><line x1="86.55" y1="484.3" x2="86.55" y2="500.5"/><line x1="81.95" y1="488.90000000000003" x2="91.15" y2="488.90000000000003"/><line x1="99.00" y1="484.3" x2="99.00" y2="500.5"/><line x1="94.40" y1="488.90000000000003" x2="103.60" y2="488.90000000000003"/><line x1="111.45" y1="484.3" x2="111.45" y2="500.5"/><line x1="106.85" y1="488.90000000000003" x2="116.05" y2="488.90000000000003"/><line x1="123.90" y1="484.3" x2="123.90" y2="500.5"/><line x1="119.30" y1="488.90000000000003" x2="128.50" y2="488.90000000000003"/><line x1="136.35" y1="484.3" x2="136.35" y2="500.5"/><line x1="131.75" y1="488.90000000000003" x2="140.95" y2="488.90000000000003"/><line x1="148.80" y1="484.3" x2="148.80" y2="500.5"/><line x1="144.20" y1="488.90000000000003" x2="153.40" y2="488.90000000000003"/><line x1="161.25" y1="484.3" x2="161.25" y2="500.5"/><line x1="156.65" y1="488.90000000000003" x2="165.85" y2="488.90000000000003"/>
</g></svg>

<div style="left:39px;top:605.8px;font-size:44px;line-height:44px;color:#9b9b9b;font-weight:700;letter-spacing:0.5px;transform:scaleX(1.114);transform-origin:0 0">#<span style="color:#c8202a">1</span>ago</div>
<div style="left:37px;top:671.8px;font-size:37.5px;line-height:37.5px;color:#111;font-weight:700;transform:scaleX(0.98);transform-origin:0 0">Total:</div>
<div style="left:139px;top:673.5px;font-size:40px;line-height:40px;color:#e5131b;font-weight:700;transform:scaleX(0.99);transform-origin:0 0">306.673</div>

<div style="left:24.5px;top:722.7px;width:1.5px;height:59px;background:#222"></div>
<div style="left:26px;top:728.4px;width:35.3px;height:35.4px;background:#999"></div>
<div style="left:61.3px;top:728.4px;width:679.7px;height:35.4px;background:#f5d383"></div>
<div style="left:741px;top:728.4px;width:8.2px;height:35.4px;background:#cf1f2a"></div>
<div style="left:741.5px;top:766px;width:1.3px;height:25px;background:#222"></div>
<div style="left:719px;top:790px;width:23.8px;height:1.3px;background:#222"></div>

<div style="left:48.4px;top:778px;width:19.2px;height:19.2px;border-radius:50%;background:#999"></div>
<div style="left:340.4px;top:779.9px;width:19.2px;height:19.2px;border-radius:50%;background:#f5d383"></div>
<div style="left:579.8px;top:780.5px;width:19.2px;height:19.2px;border-radius:50%;background:#cf1f2a"></div>

<div style="left:71px;top:778.5px;font-size:23px;line-height:23px;color:#111;font-weight:400;transform:scaleX(0.9);transform-origin:0 0">Casos</div>
<div style="left:71px;top:803px;font-size:23px;line-height:23px;color:#111;font-weight:400;transform:scaleX(1.07);transform-origin:0 0">activos</div>
<div style="left:69px;top:836.1px;font-size:34px;line-height:34px;color:#cc2228;font-weight:700;transform:scaleX(0.975);transform-origin:0 0">11.510</div>
<div style="left:367.6px;top:778px;font-size:23px;line-height:23px;color:#111;font-weight:400;transform:scaleX(0.9);transform-origin:0 0">Casos</div>
<div style="left:367.6px;top:802.5px;font-size:23px;line-height:23px;color:#111;font-weight:400;transform:scaleX(1.09);transform-origin:0 0">recuperados</div>
<div style="left:363.7px;top:834.5px;font-size:36px;line-height:36px;color:#cc2228;font-weight:700;transform:scaleX(0.96);transform-origin:0 0">291.556</div>
<div style="left:608px;top:777.5px;font-size:23px;line-height:23px;color:#111;font-weight:400;transform:scaleX(0.94);transform-origin:0 0">Fallecidos</div>
<div style="left:611.4px;top:810px;font-size:36px;line-height:36px;color:#cc2228;font-weight:700;transform:scaleX(1.02);transform-origin:0 0">3.607</div>

<div style="left:17px;top:894.2px;font-size:14px;line-height:14px;color:#3a3a3a;font-weight:400;transform:scaleX(1.016);transform-origin:0 0">Con información de covid19.patria.org.ve</div>
<div style="left:587.5px;top:885.7px;font-size:27px;line-height:27px;color:#a8232f;font-weight:700;-webkit-text-stroke:0.9px #a8232f;transform:scaleX(0.755);transform-origin:0 0">CRÓNICA</div>
<div style="left:690.5px;top:896.8px;width:5.5px;height:5.5px;border-radius:50%;background:#e59a3a"></div>
<div style="left:700.5px;top:885.7px;font-size:27px;line-height:27px;color:#a8232f;font-weight:700;-webkit-text-stroke:0.9px #a8232f;transform:scaleX(0.81);transform-origin:0 0">UNO</div>
<div style="left:349px;top:588px;font-size:12px;line-height:12px;color:#333;font-weight:400;transform:scaleX(0.94);transform-origin:0 0">Importados</div>

</body></html>
